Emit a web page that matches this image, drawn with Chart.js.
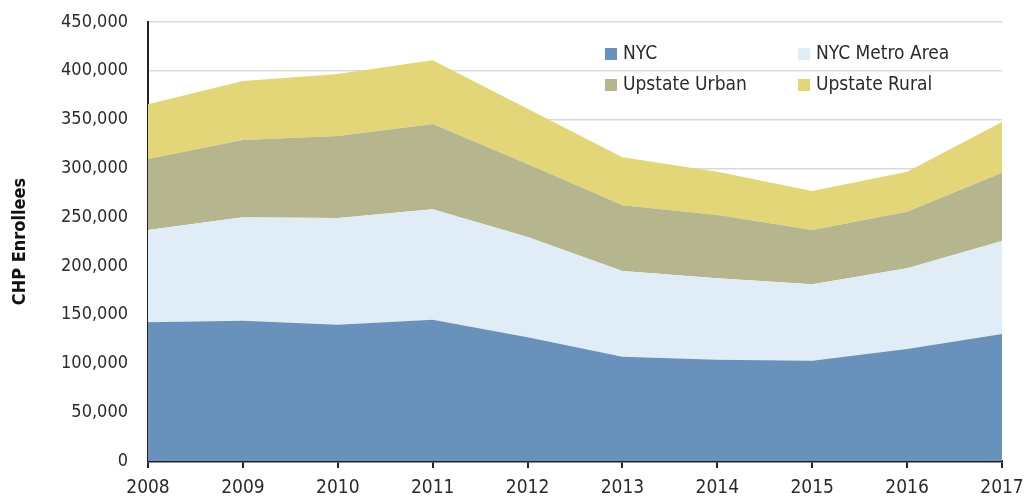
<!DOCTYPE html>
<html>
<head>
<meta charset="utf-8">
<script src="https://cdn.jsdelivr.net/npm/chart.js@4/dist/chart.umd.min.js"></script>
<style>
    html, body { margin: 0; padding: 0; background: #fff; }
    #wrap { width: 1031px; height: 500px; }
</style>
</head>
<body>
<div id="wrap"><canvas id="chart"></canvas></div>
<script>
const years = ["2008", "2009", "2010", "2011", "2012", "2013", "2014", "2015", "2016", "2017"];
const nyc = [142200, 143800, 139700, 144800, 126800, 106900, 103800, 102800, 114800, 130200];
const nycMetro = [94600, 106000, 109400, 113200, 102800, 87900, 83500, 78300, 82700, 95300];
const upstateUrban = [72800, 79200, 84000, 87400, 74800, 67300, 64900, 55700, 58000, 70000];
const upstateRural = [56000, 60500, 63600, 65300, 56600, 49200, 44400, 40000, 41100, 52000];
const yTicks = [0, 50000, 100000, 150000, 200000, 250000, 300000, 350000, 400000, 450000];

const FONT = "'DejaVu Sans Condensed', 'Liberation Sans Narrow', sans-serif";
const TEXT = "#2b2b2b";

const series = [
    {label: "NYC", data: nyc, color: "#6891bc"},
    {label: "NYC Metro Area", data: nycMetro, color: "#e0edf7"},
    {label: "Upstate Urban", data: upstateUrban, color: "#b5b68e"},
    {label: "Upstate Rural", data: upstateRural, color: "#e2d679"},
];

// legend inside the plot, two columns x two rows
const insideLegend = {
    id: "insideLegend",
    afterDatasetsDraw(chart) {
        const ctx = chart.ctx;
        const cols = [605, 798];
        const rows = [48, 79];
        ctx.save();
        ctx.font = `19px ${FONT}`;
        ctx.textBaseline = "middle";
        series.forEach((s, i) => {
            const x = cols[i % 2];
            const y = rows[Math.floor(i / 2)];
            ctx.fillStyle = s.color;
            ctx.fillRect(x, y, 12, 12);
            ctx.fillStyle = TEXT;
            ctx.fillText(s.label, x + 18, y + 6);
        });
        ctx.restore();
    }
};

new Chart(document.getElementById("chart"), {
    type: "line",
    data: {
        labels: years,
        datasets: series.map((s, i) => ({
            label: s.label,
            data: s.data,
            backgroundColor: s.color,
            borderWidth: 0,
            pointRadius: 0,
            fill: i === 0 ? "origin" : "-1",
            tension: 0,
        }))
    },
    options: {
        responsive: true,
        maintainAspectRatio: false,
        animation: false,
        layout: {padding: {top: 22, right: 29, bottom: 0, left: 0}},
        plugins: {
            legend: {display: false},
            tooltip: {enabled: false}
        },
        scales: {
            x: {
                offset: false,
                afterFit: (axis) => {
                    axis.height = 39;
                    axis.paddingLeft = 0;
                    axis.paddingRight = 0;
                },
                grid: {
                    drawOnChartArea: false,
                    drawTicks: true,
                    tickLength: 7,
                    color: "#222",
                    lineWidth: 2,
                },
                border: {color: "#222", width: 2.5},
                ticks: {
                    color: TEXT,
                    font: {family: FONT, size: 19},
                    padding: 9,
                    maxRotation: 0,
                }
            },
            y: {
                stacked: true,
                min: 0,
                max: 450000,
                afterFit: (axis) => {
                    axis.width = 148;
                    axis.paddingTop = 0;
                    axis.paddingBottom = 0;
                },
                afterBuildTicks: (axis) => { axis.ticks = yTicks.map(v => ({value: v})); },
                grid: {
                    color: "#d9d9d9",
                    lineWidth: 1.5,
                    drawTicks: false,
                },
                border: {color: "#222", width: 2},
                ticks: {
                    color: TEXT,
                    font: {family: FONT, size: 18},
                    padding: 20,
                    callback: (v) => v.toLocaleString("en-US"),
                },
                title: {
                    display: true,
                    text: "CHP Enrollees",
                    color: "#111",
                    font: {family: FONT, size: 18, weight: "bold"},
                    padding: {top: 10, bottom: 0},
                }
            }
        }
    },
    plugins: [insideLegend]
});
</script>
</body>
</html>
